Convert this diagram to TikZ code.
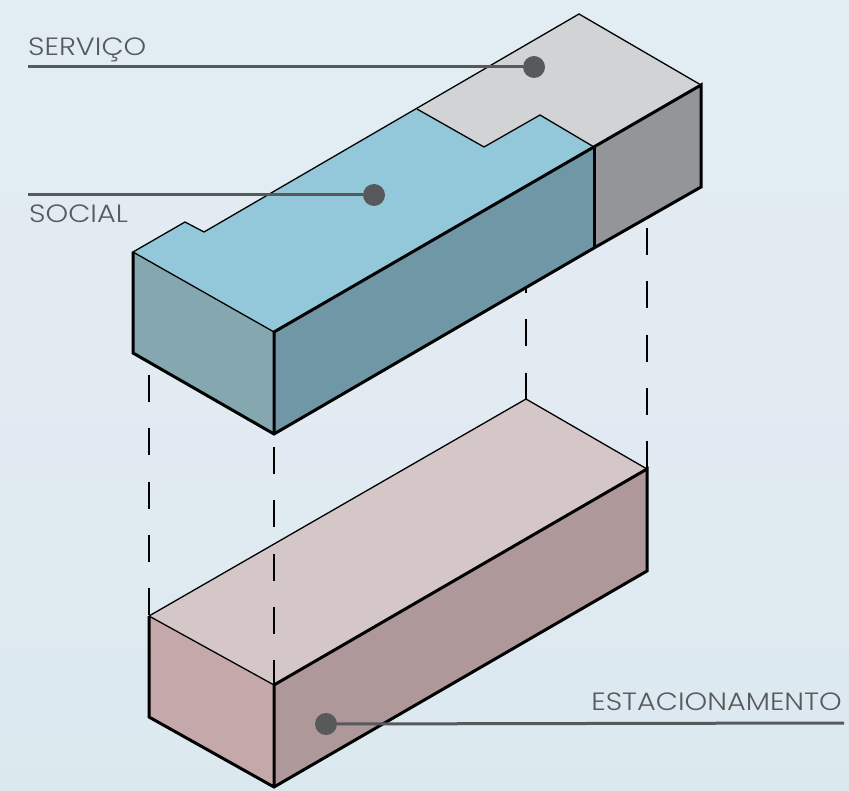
\documentclass[tikz,border=0pt]{standalone}
\usepackage{fontspec}
\setmainfont{Poppins Light}
\newfontfamily\tagfont[FakeStretch=1.15]{Poppins Light}
\definecolor{bgtop}{HTML}{E1EDF3}
\definecolor{bgmid}{HTML}{E2EAF2}
\definecolor{bgbot}{HTML}{DBE9EF}
\definecolor{inkgrey}{HTML}{58595B}
\definecolor{socialtop}{HTML}{93C7DA}
\definecolor{socialfront}{HTML}{6F97A6}
\definecolor{socialleft}{HTML}{84A7B0}
\definecolor{servtop}{HTML}{D1D3D4}
\definecolor{servside}{HTML}{939598}
\definecolor{parktop}{HTML}{D5C7C7}
\definecolor{parkfront}{HTML}{AE9899}
\definecolor{parkleft}{HTML}{C5A9AA}
\tikzset{
	thinedge/.style={line width=1.3pt,line join=miter},
	thickedge/.style={line width=3pt,line join=miter},
	dashline/.style={line width=2.5pt,dash pattern=on 27pt off 26.33pt},
	leader/.style={line width=3pt,draw=inkgrey},
	dot/.style={circle,fill=inkgrey,inner sep=0pt,minimum size=22pt},
	tag/.style={text=inkgrey,inner sep=0pt,font=\tagfont\fontsize{25}{25}\selectfont}
}
\begin{document}
\begin{tikzpicture}[x=1pt,y=-1pt]
	\shade[top color=bgtop,bottom color=bgbot,middle color=bgmid] (0,0) rectangle (849,791);
	\useasboundingbox (0,0) rectangle (849,791);
	% lower block
	\fill[parktop] (149,616)--(526,399)--(647,469)--(274,685)--cycle;
	\fill[parkfront] (274,685)--(647,469)--(647,571)--(274,787)--cycle;
	\fill[parkleft] (149,616)--(274,685)--(274,787)--(149,717)--cycle;
	\draw[thinedge] (149,616)--(526,399)--(647,469);
	\draw[thinedge] (149,616)--(274,685);
	\draw[thickedge] (149,616)--(149,717)--(274,787)--(647,571)--(647,469)--(274,685)--(274,787);
	% dashed verticals
	\coordinate (a1) at (149,375); \coordinate (a2) at (149,616);
	\coordinate (b1) at (274,447); \coordinate (b2) at (274,685);
	\coordinate (c1) at (526,266); \coordinate (c2) at (526,399);
	\coordinate (d1) at (647,228); \coordinate (d2) at (647,469);
	\foreach \i in {a,b,c,d}
		\draw[dashline] (\i1)--(\i2);
	% upper block
	\fill[socialtop] (133,252)--(185,222)--(204,232)--(417,109)--(484,147)--(540,115)--(594,147)--(274,332)--cycle;
	\fill[servtop] (417,109)--(579,14)--(701,85)--(594,147)--(540,115)--(484,147)--cycle;
	\fill[socialfront] (274,332)--(594,147)--(594,248)--(274,434)--cycle;
	\fill[servside] (594,147)--(701,85)--(701,187)--(594,248)--cycle;
	\fill[socialleft] (133,252)--(274,332)--(274,434)--(133,353)--cycle;
	\draw[thinedge] (274,332)--(133,252)--(185,222)--(204,232)--(579,14)--(701,85);
	\draw[thinedge] (417,109)--(484,147)--(540,115)--(594,147);
	\draw[thickedge] (133,252)--(133,353)--(274,434)--(594,248)--(701,187)--(701,85)--(274,332)--(274,434);
	\draw[thickedge] (594,147)--(594,248);
	% labels
	\node[dot] (servdot) at (534,67) {};
	\node[dot] (socdot) at (374,195) {};
	\node[dot,minimum width=21pt] (parkdot) at (326,724) {};
	\coordinate (servend) at (28,67);
	\coordinate (socend) at (28,195);
	\coordinate (parkend) at (844,723);
	\draw[leader] (servend)--(servdot);
	\draw[leader] (socend)--(socdot);
	\draw[leader] (parkend)--(parkdot);
	\node[tag,anchor=base west] (servtxt) at (28,56) {SERVIÇO};
	\node[tag,anchor=base west] (soctxt) at (29,223) {SOCIAL};
	\node[tag,anchor=base east] (parktxt) at (842,710) {ESTACIONAMENTO};
\end{tikzpicture}
\end{document}
